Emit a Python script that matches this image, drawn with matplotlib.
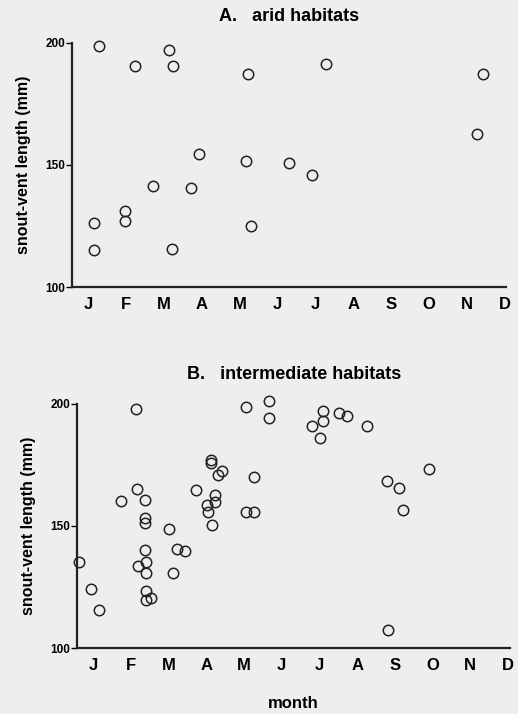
import matplotlib
matplotlib.use("Agg")
import matplotlib.pyplot as plt

plt.rcParams['font.family'] = ['Liberation Sans', 'DejaVu Sans']
plt.rcParams['font.weight'] = 'bold'

months = ['J', 'F', 'M', 'A', 'M', 'J', 'J', 'A', 'S', 'O', 'N', 'D']
y_ticks = [100, 150, 200]

# month position (0 = Jan) and snout-vent length (mm)
arid_month = [0.28, 0.17, 0.17, 1.23, 0.98, 0.98, 1.71, 2.15, 2.25, 2.22,
              2.73, 2.93, 4.23, 4.16, 4.29, 5.30, 5.92, 6.28, 10.26, 10.41]
arid_svl = [198.6, 126.3, 115.3, 190.7, 131.2, 127.1, 141.2, 197.0, 190.7, 115.6,
            140.7, 154.5, 187.4, 151.8, 124.8, 150.7, 146.0, 191.5, 162.7, 187.1]

inter_month = [-0.37, -0.05, 0.17, 0.74, 1.13, 1.16, 1.37, 1.39, 1.39, 1.39,
               1.18, 1.40, 1.40, 1.40, 1.40, 1.54, 2.01, 2.11, 2.22, 2.44,
               2.73, 3.03, 3.05, 3.16, 3.12, 3.13, 3.24, 3.24, 3.32, 3.43,
               4.05, 4.06, 4.28, 4.28, 4.66, 4.66, 5.80, 6.01, 6.10, 6.10,
               6.52, 6.74, 7.27, 7.78, 8.10, 8.22, 7.83, 8.91]
inter_svl = [135.1, 124.2, 115.4, 160.4, 197.7, 165.3, 160.7, 153.4, 151.4, 140.3,
             133.5, 135.4, 130.7, 123.5, 119.8, 120.5, 148.8, 130.7, 140.4, 139.6,
             164.9, 158.7, 155.6, 150.5, 176.8, 175.8, 162.8, 160.0, 170.9, 172.7,
             198.9, 155.9, 155.9, 169.9, 201.1, 194.0, 191.0, 186.1, 197.1, 192.9,
             196.3, 195.2, 191.1, 168.4, 165.7, 156.4, 107.5, 173.4]

bg = '#eeeeee'
fig = plt.figure(figsize=(5.18, 7.14), dpi=100, facecolor=bg)


def panel(rect, xs, ys, title, xmax, title_pad):
    ax = fig.add_axes(rect)
    ax.set_facecolor(bg)
    ax.plot(xs, ys, 'o', ms=7.5, mfc='none', mec='#222222', mew=1.1, clip_on=False)
    ax.set_xlim(-0.42, xmax)
    ax.set_ylim(100, 200)
    for s in ['top', 'right']:
        ax.spines[s].set_visible(False)
    for s in ['left', 'bottom']:
        ax.spines[s].set_linewidth(1.6)
        ax.spines[s].set_color('#222222')
    ax.set_xticks(range(12))
    ax.set_xticklabels(months, fontsize=12, fontweight='bold')
    ax.tick_params(axis='x', length=0, pad=7)
    ax.set_yticks(y_ticks)
    ax.set_yticklabels([str(v) for v in y_ticks], fontsize=8.5, fontweight='bold')
    ax.tick_params(axis='y', length=4, width=1, pad=1)
    ax.set_ylabel('snout-vent length (mm)', fontsize=11.5, fontweight='bold', labelpad=10)
    ax.set_title(title, fontsize=13, fontweight='bold', pad=title_pad)
    return ax


panel([0.139, 0.598, 0.838, 0.342], arid_month, arid_svl,
      'A.   arid habitats', 11.03, 16)
axb = panel([0.149, 0.0924, 0.836, 0.342], inter_month, inter_svl,
            'B.   intermediate habitats', 11.06, 18)
axb.set_xlabel('month', fontsize=12, fontweight='bold', labelpad=17)

fig.savefig('out.png', dpi=100, facecolor=bg)
